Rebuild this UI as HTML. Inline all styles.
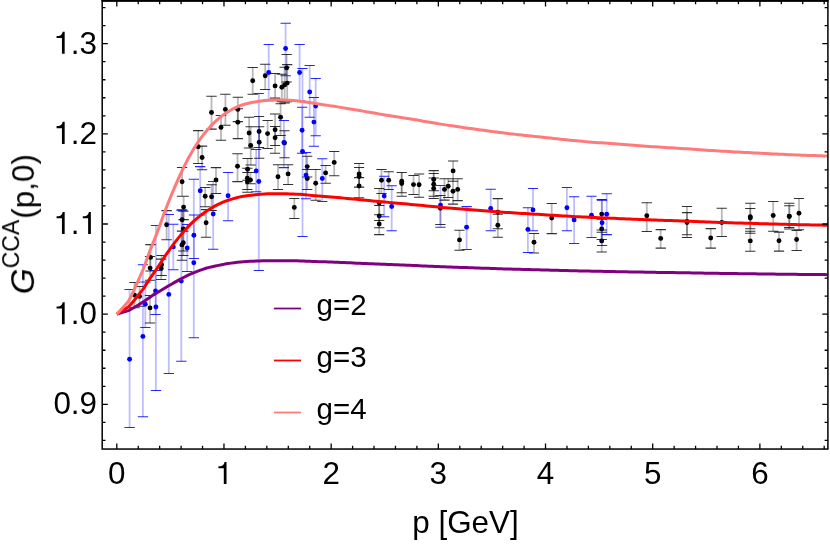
<!DOCTYPE html>
<html><head><meta charset="utf-8"><title>plot</title>
<style>html,body{margin:0;padding:0;background:#fff;}svg{display:block;}text{font-family:"Liberation Sans",sans-serif;fill:#000;}</style>
</head><body>
<svg width="830" height="545" viewBox="0 0 830 545">
<rect x="0" y="0" width="830" height="545" fill="#fff"/>
<defs><clipPath id="clip"><rect x="102.2" y="0.8" width="725.7" height="448.2"/></clipPath></defs>
<g clip-path="url(#clip)">
<g stroke="#000" stroke-opacity="0.28" stroke-width="1.8" fill="none">
<path d="M150.0 295.5V322.9"/>
<path d="M134.5 282.4V307.8"/>
<path d="M139.5 286.5V306.3"/>
<path d="M150.1 256.5V280.3"/>
<path d="M150.5 244.6V271.0"/>
<path d="M161.2 259.1V279.4"/>
<path d="M161.6 255.5V275.4"/>
<path d="M166.6 210.6V239.7"/>
<path d="M182.1 167.5V196.3"/>
<path d="M183.6 196.3V219.6"/>
<path d="M182.1 209.8V231.2"/>
<path d="M183.3 211.1V250.9"/>
<path d="M183.3 231.2V255.5"/>
<path d="M181.9 231.0V260.2"/>
<path d="M198.2 130.6V163.4"/>
<path d="M202.1 146.1V169.7"/>
<path d="M216.0 167.6V193.4"/>
<path d="M205.2 187.5V206.8"/>
<path d="M211.6 184.8V210.4"/>
<path d="M206.1 209.6V237.3"/>
<path d="M237.5 153.7V181.6"/>
<path d="M211.5 96.3V129.1"/>
<path d="M225.4 94.3V125.2"/>
<path d="M221.0 115.4V140.3"/>
<path d="M237.8 97.2V121.6"/>
<path d="M237.8 108.8V138.6"/>
<path d="M249.1 117.2V147.9"/>
<path d="M250.7 126.7V164.9"/>
<path d="M259.1 116.4V147.5"/>
<path d="M259.2 126.8V158.3"/>
<path d="M267.6 120.4V148.5"/>
<path d="M275.1 114.0V145.4"/>
<path d="M275.1 126.4V153.3"/>
<path d="M280.6 103.7V135.5"/>
<path d="M284.5 130.7V157.8"/>
<path d="M252.7 67.5V94.3"/>
<path d="M265.2 64.3V89.4"/>
<path d="M275.1 73.5V98.1"/>
<path d="M281.8 74.2V101.6"/>
<path d="M284.6 67.3V103.0"/>
<path d="M287.2 64.6V101.6"/>
<path d="M286.6 54.4V82.0"/>
<path d="M247.6 158.4V180.2"/>
<path d="M247.3 168.2V189.5"/>
<path d="M250.4 172.4V183.8"/>
<path d="M247.4 172.4V192.2"/>
<path d="M278.0 164.7V189.4"/>
<path d="M288.1 164.7V184.5"/>
<path d="M294.3 198.4V218.4"/>
<path d="M307.2 156.3V176.9"/>
<path d="M307.2 169.4V189.4"/>
<path d="M315.7 169.4V200.2"/>
<path d="M325.6 165.4V183.2"/>
<path d="M334.2 151.5V175.7"/>
<path d="M359.1 163.4V187.0"/>
<path d="M359.1 167.5V187.2"/>
<path d="M359.1 177.6V197.8"/>
<path d="M381.5 169.4V193.4"/>
<path d="M388.7 171.7V189.4"/>
<path d="M401.7 172.5V192.7"/>
<path d="M401.7 172.5V196.3"/>
<path d="M413.5 175.5V194.5"/>
<path d="M419.1 173.9V197.3"/>
<path d="M433.7 170.6V190.8"/>
<path d="M433.7 173.4V196.2"/>
<path d="M433.7 178.0V198.5"/>
<path d="M379.2 188.4V220.4"/>
<path d="M379.2 205.4V227.7"/>
<path d="M379.2 214.7V234.6"/>
<path d="M453.1 161.0V181.2"/>
<path d="M444.5 178.7V200.1"/>
<path d="M448.2 178.7V197.5"/>
<path d="M453.0 178.7V204.1"/>
<path d="M457.7 178.7V200.6"/>
<path d="M440.4 195.4V224.4"/>
<path d="M459.5 230.2V250.2"/>
<path d="M497.8 198.6V228.8"/>
<path d="M497.8 214.3V237.3"/>
<path d="M534.0 233.4V253.0"/>
<path d="M551.7 203.5V233.6"/>
<path d="M601.7 199.6V230.0"/>
<path d="M601.7 219.1V239.4"/>
<path d="M601.7 232.2V252.0"/>
<path d="M646.8 202.7V231.4"/>
<path d="M660.7 229.6V248.1"/>
<path d="M687.0 206.5V234.8"/>
<path d="M687.0 212.6V237.5"/>
<path d="M710.7 228.6V248.1"/>
<path d="M721.8 208.3V236.5"/>
<path d="M750.3 203.2V228.8"/>
<path d="M750.3 208.5V233.3"/>
<path d="M750.3 231.2V251.2"/>
<path d="M773.2 201.5V231.3"/>
<path d="M789.3 203.2V227.4"/>
<path d="M789.3 205.7V229.0"/>
<path d="M799.0 198.4V229.7"/>
<path d="M779.0 232.1V251.1"/>
<path d="M796.6 230.4V250.4"/>
</g>
<path d="M144.8 295.5H155.2M144.8 322.9H155.2M129.3 282.4H139.7M129.3 307.8H139.7M134.3 286.5H144.7M134.3 306.3H144.7M144.9 256.5H155.2M144.9 280.3H155.2M145.3 244.6H155.7M145.3 271.0H155.7M156.0 259.1H166.3M156.0 279.4H166.3M156.4 255.5H166.8M156.4 275.4H166.8M161.4 210.6H171.8M161.4 239.7H171.8M176.9 167.5H187.2M176.9 196.3H187.2M178.4 196.3H188.8M178.4 219.6H188.8M176.9 209.8H187.2M176.9 231.2H187.2M178.2 211.1H188.5M178.2 250.9H188.5M178.2 231.2H188.5M178.2 255.5H188.5M176.8 231.0H187.1M176.8 260.2H187.1M193.0 130.6H203.3M193.0 163.4H203.3M196.9 146.1H207.2M196.9 169.7H207.2M210.8 167.6H221.2M210.8 193.4H221.2M200.0 187.5H210.3M200.0 206.8H210.3M206.4 184.8H216.8M206.4 210.4H216.8M200.9 209.6H211.2M200.9 237.3H211.2M232.3 153.7H242.7M232.3 181.6H242.7M206.3 96.3H216.7M206.3 129.1H216.7M220.2 94.3H230.6M220.2 125.2H230.6M215.8 115.4H226.2M215.8 140.3H226.2M232.7 97.2H243.0M232.7 121.6H243.0M232.7 108.8H243.0M232.7 138.6H243.0M243.9 117.2H254.2M243.9 147.9H254.2M245.5 126.7H255.8M245.5 164.9H255.8M254.0 116.4H264.2M254.0 147.5H264.2M254.0 126.8H264.3M254.0 158.3H264.3M262.5 120.4H272.8M262.5 148.5H272.8M270.0 114.0H280.2M270.0 145.4H280.2M270.0 126.4H280.2M270.0 153.3H280.2M275.5 103.7H285.8M275.5 135.5H285.8M279.4 130.7H289.6M279.4 157.8H289.6M247.5 67.5H257.8M247.5 94.3H257.8M260.1 64.3H270.3M260.1 89.4H270.3M270.0 73.5H280.2M270.0 98.1H280.2M276.7 74.2H286.9M276.7 101.6H286.9M279.5 67.3H289.8M279.5 103.0H289.8M282.1 64.6H292.3M282.1 101.6H292.3M281.5 54.4H291.8M281.5 82.0H291.8M242.4 158.4H252.8M242.4 180.2H252.8M242.2 168.2H252.5M242.2 189.5H252.5M245.2 172.4H255.6M245.2 183.8H255.6M242.2 172.4H252.6M242.2 192.2H252.6M272.9 164.7H283.1M272.9 189.4H283.1M283.0 164.7H293.2M283.0 184.5H293.2M289.2 198.4H299.4M289.2 218.4H299.4M302.1 156.3H312.3M302.1 176.9H312.3M302.1 169.4H312.3M302.1 189.4H312.3M310.6 169.4H320.8M310.6 200.2H320.8M320.5 165.4H330.8M320.5 183.2H330.8M329.1 151.5H339.3M329.1 175.7H339.3M354.0 163.4H364.2M354.0 187.0H364.2M354.0 167.5H364.2M354.0 187.2H364.2M354.0 177.6H364.2M354.0 197.8H364.2M376.4 169.4H386.6M376.4 193.4H386.6M383.6 171.7H393.8M383.6 189.4H393.8M396.6 172.5H406.8M396.6 192.7H406.8M396.6 172.5H406.8M396.6 196.3H406.8M408.4 175.5H418.6M408.4 194.5H418.6M414.0 173.9H424.2M414.0 197.3H424.2M428.6 170.6H438.8M428.6 190.8H438.8M428.6 173.4H438.8M428.6 196.2H438.8M428.6 178.0H438.8M428.6 198.5H438.8M374.1 188.4H384.3M374.1 220.4H384.3M374.1 205.4H384.3M374.1 227.7H384.3M374.1 214.7H384.3M374.1 234.6H384.3M448.0 161.0H458.2M448.0 181.2H458.2M439.4 178.7H449.6M439.4 200.1H449.6M443.1 178.7H453.3M443.1 197.5H453.3M447.9 178.7H458.1M447.9 204.1H458.1M452.6 178.7H462.8M452.6 200.6H462.8M435.2 195.4H445.5M435.2 224.4H445.5M454.4 230.2H464.6M454.4 250.2H464.6M492.7 198.6H502.9M492.7 228.8H502.9M492.7 214.3H502.9M492.7 237.3H502.9M528.9 233.4H539.1M528.9 253.0H539.1M546.6 203.5H556.9M546.6 233.6H556.9M596.6 199.6H606.9M596.6 230.0H606.9M596.6 219.1H606.9M596.6 239.4H606.9M596.6 232.2H606.9M596.6 252.0H606.9M641.6 202.7H651.9M641.6 231.4H651.9M655.6 229.6H665.9M655.6 248.1H665.9M681.9 206.5H692.1M681.9 234.8H692.1M681.9 212.6H692.1M681.9 237.5H692.1M705.6 228.6H715.9M705.6 248.1H715.9M716.6 208.3H726.9M716.6 236.5H726.9M745.1 203.2H755.4M745.1 228.8H755.4M745.1 208.5H755.4M745.1 233.3H755.4M745.1 231.2H755.4M745.1 251.2H755.4M768.1 201.5H778.4M768.1 231.3H778.4M784.1 203.2H794.4M784.1 227.4H794.4M784.1 205.7H794.4M784.1 229.0H794.4M793.9 198.4H804.1M793.9 229.7H804.1M773.9 232.1H784.1M773.9 251.1H784.1M791.5 230.4H801.8M791.5 250.4H801.8" stroke="#000" stroke-opacity="0.8" stroke-width="1.05" fill="none"/>
<g fill="#000"><circle cx="150.0" cy="307.9" r="2.45"/><circle cx="134.5" cy="295.1" r="2.45"/><circle cx="139.5" cy="296.4" r="2.45"/><circle cx="150.1" cy="268.1" r="2.45"/><circle cx="150.5" cy="257.4" r="2.45"/><circle cx="161.2" cy="268.6" r="2.45"/><circle cx="161.6" cy="264.8" r="2.45"/><circle cx="166.6" cy="224.8" r="2.45"/><circle cx="182.1" cy="181.8" r="2.45"/><circle cx="183.6" cy="207.1" r="2.45"/><circle cx="182.1" cy="219.8" r="2.45"/><circle cx="183.3" cy="229.0" r="2.45"/><circle cx="183.3" cy="242.8" r="2.45"/><circle cx="181.9" cy="244.9" r="2.45"/><circle cx="198.2" cy="146.7" r="2.45"/><circle cx="202.1" cy="157.5" r="2.45"/><circle cx="216.0" cy="180.0" r="2.45"/><circle cx="205.2" cy="196.3" r="2.45"/><circle cx="211.6" cy="196.7" r="2.45"/><circle cx="206.1" cy="222.8" r="2.45"/><circle cx="237.5" cy="166.3" r="2.45"/><circle cx="211.5" cy="112.5" r="2.45"/><circle cx="225.4" cy="109.4" r="2.45"/><circle cx="221.0" cy="127.4" r="2.45"/><circle cx="237.8" cy="109.4" r="2.45"/><circle cx="237.8" cy="122.2" r="2.45"/><circle cx="249.1" cy="133.0" r="2.45"/><circle cx="250.7" cy="145.4" r="2.45"/><circle cx="259.1" cy="131.5" r="2.45"/><circle cx="259.2" cy="142.2" r="2.45"/><circle cx="267.6" cy="133.6" r="2.45"/><circle cx="275.1" cy="129.8" r="2.45"/><circle cx="275.1" cy="137.7" r="2.45"/><circle cx="280.6" cy="117.2" r="2.45"/><circle cx="284.5" cy="143.0" r="2.45"/><circle cx="252.7" cy="80.8" r="2.45"/><circle cx="265.2" cy="75.7" r="2.45"/><circle cx="275.1" cy="85.9" r="2.45"/><circle cx="281.8" cy="87.3" r="2.45"/><circle cx="284.6" cy="84.9" r="2.45"/><circle cx="287.2" cy="83.1" r="2.45"/><circle cx="286.6" cy="67.9" r="2.45"/><circle cx="247.6" cy="169.3" r="2.45"/><circle cx="247.3" cy="178.3" r="2.45"/><circle cx="250.4" cy="180.0" r="2.45"/><circle cx="247.4" cy="181.7" r="2.45"/><circle cx="278.0" cy="176.8" r="2.45"/><circle cx="288.1" cy="173.9" r="2.45"/><circle cx="294.3" cy="207.4" r="2.45"/><circle cx="307.2" cy="166.6" r="2.45"/><circle cx="307.2" cy="178.5" r="2.45"/><circle cx="315.7" cy="183.2" r="2.45"/><circle cx="325.6" cy="172.9" r="2.45"/><circle cx="334.2" cy="162.4" r="2.45"/><circle cx="359.1" cy="174.0" r="2.45"/><circle cx="359.1" cy="176.5" r="2.45"/><circle cx="359.1" cy="186.0" r="2.45"/><circle cx="381.5" cy="180.3" r="2.45"/><circle cx="388.7" cy="180.3" r="2.45"/><circle cx="401.7" cy="181.2" r="2.45"/><circle cx="401.7" cy="183.6" r="2.45"/><circle cx="413.5" cy="184.6" r="2.45"/><circle cx="419.1" cy="184.8" r="2.45"/><circle cx="433.7" cy="179.5" r="2.45"/><circle cx="433.7" cy="184.3" r="2.45"/><circle cx="433.7" cy="188.4" r="2.45"/><circle cx="379.2" cy="203.0" r="2.45"/><circle cx="379.2" cy="215.9" r="2.45"/><circle cx="379.2" cy="223.9" r="2.45"/><circle cx="453.1" cy="170.9" r="2.45"/><circle cx="444.5" cy="189.4" r="2.45"/><circle cx="448.2" cy="186.2" r="2.45"/><circle cx="453.0" cy="191.2" r="2.45"/><circle cx="457.7" cy="189.4" r="2.45"/><circle cx="440.4" cy="208.3" r="2.45"/><circle cx="459.5" cy="239.9" r="2.45"/><circle cx="497.8" cy="212.1" r="2.45"/><circle cx="497.8" cy="225.2" r="2.45"/><circle cx="534.0" cy="242.2" r="2.45"/><circle cx="551.7" cy="218.1" r="2.45"/><circle cx="601.7" cy="214.1" r="2.45"/><circle cx="601.7" cy="229.0" r="2.45"/><circle cx="601.7" cy="240.9" r="2.45"/><circle cx="646.8" cy="215.8" r="2.45"/><circle cx="660.7" cy="238.4" r="2.45"/><circle cx="687.0" cy="221.5" r="2.45"/><circle cx="687.0" cy="222.6" r="2.45"/><circle cx="710.7" cy="238.0" r="2.45"/><circle cx="721.8" cy="222.5" r="2.45"/><circle cx="750.3" cy="216.8" r="2.45"/><circle cx="750.3" cy="218.0" r="2.45"/><circle cx="750.3" cy="240.9" r="2.45"/><circle cx="773.2" cy="215.5" r="2.45"/><circle cx="789.3" cy="216.1" r="2.45"/><circle cx="789.3" cy="216.5" r="2.45"/><circle cx="799.0" cy="213.3" r="2.45"/><circle cx="779.0" cy="240.8" r="2.45"/><circle cx="796.6" cy="239.5" r="2.45"/></g>
<g stroke="#0000ff" stroke-opacity="0.26" stroke-width="1.8" fill="none">
<path d="M129.6 289.5V427.5"/>
<path d="M142.9 264.7V416.7"/>
<path d="M155.9 225.4V390.5"/>
<path d="M145.3 281.9V327.4"/>
<path d="M155.5 270.5V314.5"/>
<path d="M168.8 214.4V373.4"/>
<path d="M181.3 210.3V361.3"/>
<path d="M193.8 179.3V337.7"/>
<path d="M173.3 224.3V269.7"/>
<path d="M187.2 224.5V271.4"/>
<path d="M193.9 214.9V258.4"/>
<path d="M200.2 166.6V214.9"/>
<path d="M213.2 181.4V249.3"/>
<path d="M228.1 172.4V220.7"/>
<path d="M256.2 149.4V191.8"/>
<path d="M258.8 93.4V270.4"/>
<path d="M283.9 120.4V167.6"/>
<path d="M268.7 44.4V100.6"/>
<path d="M285.6 23.3V75.7"/>
<path d="M299.6 44.4V100.6"/>
<path d="M309.7 65.4V117.2"/>
<path d="M315.7 78.5V135.7"/>
<path d="M313.9 97.4V146.3"/>
<path d="M302.1 107.3V153.3"/>
<path d="M302.5 68.5V236.4"/>
<path d="M306.0 152.5V198.7"/>
<path d="M322.3 158.8V201.4"/>
<path d="M384.2 176.3V216.7"/>
<path d="M391.7 185.7V230.7"/>
<path d="M440.5 185.5V227.3"/>
<path d="M466.6 206.6V249.5"/>
<path d="M490.7 189.3V230.7"/>
<path d="M533.0 188.5V230.8"/>
<path d="M527.9 207.8V252.4"/>
<path d="M566.9 187.5V230.7"/>
<path d="M574.1 196.7V243.5"/>
<path d="M591.5 196.2V237.5"/>
<path d="M606.7 193.8V234.6"/>
<path d="M602.1 200.3V245.5"/>
</g>
<path d="M124.4 289.5H134.8M124.4 427.5H134.8M137.8 264.7H148.1M137.8 416.7H148.1M150.8 225.4H161.1M150.8 390.5H161.1M140.2 281.9H150.5M140.2 327.4H150.5M150.3 270.5H160.7M150.3 314.5H160.7M163.7 214.4H174.0M163.7 373.4H174.0M176.2 210.3H186.5M176.2 361.3H186.5M188.7 179.3H199.0M188.7 337.7H199.0M168.2 224.3H178.5M168.2 269.7H178.5M182.0 224.5H192.3M182.0 271.4H192.3M188.8 214.9H199.1M188.8 258.4H199.1M195.0 166.6H205.3M195.0 214.9H205.3M208.0 181.4H218.3M208.0 249.3H218.3M222.9 172.4H233.2M222.9 220.7H233.2M251.0 149.4H261.3M251.0 191.8H261.3M253.7 93.4H263.9M253.7 270.4H263.9M278.8 120.4H289.0M278.8 167.6H289.0M263.6 44.4H273.8M263.6 100.6H273.8M280.5 23.3H290.8M280.5 75.7H290.8M294.5 44.4H304.8M294.5 100.6H304.8M304.6 65.4H314.8M304.6 117.2H314.8M310.6 78.5H320.8M310.6 135.7H320.8M308.8 97.4H319.0M308.8 146.3H319.0M297.0 107.3H307.2M297.0 153.3H307.2M297.4 68.5H307.6M297.4 236.4H307.6M300.9 152.5H311.1M300.9 198.7H311.1M317.2 158.8H327.4M317.2 201.4H327.4M379.1 176.3H389.3M379.1 216.7H389.3M386.6 185.7H396.8M386.6 230.7H396.8M435.4 185.5H445.6M435.4 227.3H445.6M461.5 206.6H471.8M461.5 249.5H471.8M485.6 189.3H495.8M485.6 230.7H495.8M527.9 188.5H538.1M527.9 230.8H538.1M522.8 207.8H533.0M522.8 252.4H533.0M561.8 187.5H572.0M561.8 230.7H572.0M569.0 196.7H579.2M569.0 243.5H579.2M586.4 196.2H596.6M586.4 237.5H596.6M601.6 193.8H611.9M601.6 234.6H611.9M597.0 200.3H607.2M597.0 245.5H607.2" stroke="#0000ff" stroke-opacity="0.85" stroke-width="1.05" fill="none"/>
<g fill="#0000ff"><circle cx="129.6" cy="359.3" r="2.45"/><circle cx="142.9" cy="336.4" r="2.45"/><circle cx="155.9" cy="307.0" r="2.45"/><circle cx="145.3" cy="304.3" r="2.45"/><circle cx="155.5" cy="290.9" r="2.45"/><circle cx="168.8" cy="294.4" r="2.45"/><circle cx="181.3" cy="281.1" r="2.45"/><circle cx="193.8" cy="262.8" r="2.45"/><circle cx="173.3" cy="246.9" r="2.45"/><circle cx="187.2" cy="248.0" r="2.45"/><circle cx="193.9" cy="235.3" r="2.45"/><circle cx="200.2" cy="190.8" r="2.45"/><circle cx="213.2" cy="214.0" r="2.45"/><circle cx="228.1" cy="195.8" r="2.45"/><circle cx="256.2" cy="170.9" r="2.45"/><circle cx="258.8" cy="181.5" r="2.45"/><circle cx="283.9" cy="142.5" r="2.45"/><circle cx="268.7" cy="72.5" r="2.45"/><circle cx="285.6" cy="48.5" r="2.45"/><circle cx="299.6" cy="72.5" r="2.45"/><circle cx="309.7" cy="92.0" r="2.45"/><circle cx="315.7" cy="106.1" r="2.45"/><circle cx="313.9" cy="122.1" r="2.45"/><circle cx="302.1" cy="130.3" r="2.45"/><circle cx="302.5" cy="151.5" r="2.45"/><circle cx="306.0" cy="175.1" r="2.45"/><circle cx="322.3" cy="178.5" r="2.45"/><circle cx="384.2" cy="196.1" r="2.45"/><circle cx="391.7" cy="206.5" r="2.45"/><circle cx="440.5" cy="205.1" r="2.45"/><circle cx="466.6" cy="227.3" r="2.45"/><circle cx="490.7" cy="208.5" r="2.45"/><circle cx="533.0" cy="209.9" r="2.45"/><circle cx="527.9" cy="229.4" r="2.45"/><circle cx="566.9" cy="207.8" r="2.45"/><circle cx="574.1" cy="219.9" r="2.45"/><circle cx="591.5" cy="215.2" r="2.45"/><circle cx="606.7" cy="214.3" r="2.45"/><circle cx="602.1" cy="222.8" r="2.45"/></g>
<path d="M116.80 314.17 L129.20 310.31 L136.70 306.05 L144.60 301.01 L152.50 295.41 L160.40 290.73 L168.20 286.04 L171.46 284.20 L174.60 282.42 L177.74 280.61 L180.88 278.85 L184.01 277.23 L187.15 275.68 L190.29 274.21 L193.43 272.86 L196.57 271.62 L199.70 270.43 L202.84 269.31 L205.98 268.29 L209.12 267.40 L212.26 266.70 L215.39 266.06 L218.53 265.38 L221.67 264.72 L224.81 264.10 L227.95 263.57 L231.08 263.12 L234.22 262.70 L237.36 262.32 L240.50 262.00 L243.63 261.75 L246.77 261.54 L249.91 261.36 L253.05 261.20 L256.19 261.07 L259.32 260.96 L262.46 260.84 L265.60 260.74 L268.74 260.67 L271.88 260.64 L275.01 260.63 L278.15 260.63 L281.29 260.63 L284.43 260.65 L287.57 260.69 L290.70 260.74 L293.84 260.79 L296.98 260.86 L300.12 260.93 L303.26 261.04 L306.39 261.16 L309.53 261.29 L312.67 261.41 L315.81 261.53 L318.95 261.64 L322.08 261.75 L325.22 261.87 L328.36 261.99 L331.50 262.11 L334.64 262.23 L337.77 262.35 L340.91 262.48 L344.05 262.61 L347.19 262.73 L350.33 262.87 L353.46 263.00 L356.60 263.13 L359.74 263.27 L362.88 263.41 L366.02 263.54 L369.15 263.68 L372.29 263.81 L375.43 263.95 L378.57 264.08 L381.71 264.21 L384.84 264.34 L387.98 264.47 L391.12 264.59 L394.26 264.72 L397.40 264.84 L400.53 264.97 L403.67 265.10 L406.81 265.22 L409.95 265.35 L413.09 265.48 L416.22 265.61 L419.36 265.74 L422.50 265.88 L425.64 266.01 L428.77 266.15 L431.91 266.29 L435.05 266.42 L438.19 266.55 L441.33 266.68 L444.46 266.80 L447.60 266.92 L450.74 267.04 L453.88 267.16 L457.02 267.28 L460.15 267.39 L463.29 267.50 L466.43 267.61 L469.57 267.72 L472.71 267.83 L475.84 267.94 L478.98 268.05 L482.12 268.16 L485.26 268.26 L488.40 268.37 L491.53 268.48 L494.67 268.58 L497.81 268.68 L500.95 268.78 L504.09 268.88 L507.22 268.98 L510.36 269.07 L513.50 269.16 L516.64 269.25 L519.78 269.34 L522.91 269.42 L526.05 269.51 L529.19 269.59 L532.33 269.67 L535.47 269.75 L538.60 269.83 L541.74 269.92 L544.88 270.00 L548.02 270.08 L551.16 270.17 L554.29 270.26 L557.43 270.34 L560.57 270.43 L563.71 270.52 L566.85 270.60 L569.98 270.68 L573.12 270.76 L576.26 270.83 L579.40 270.90 L582.54 270.97 L585.67 271.04 L588.81 271.10 L591.95 271.16 L595.09 271.22 L598.22 271.28 L601.36 271.34 L604.50 271.40 L607.64 271.46 L610.78 271.52 L613.91 271.58 L617.05 271.64 L620.19 271.70 L623.33 271.77 L626.47 271.83 L629.60 271.89 L632.74 271.94 L635.88 272.00 L639.02 272.06 L642.16 272.12 L645.29 272.17 L648.43 272.23 L651.57 272.28 L654.71 272.33 L657.85 272.38 L660.98 272.43 L664.12 272.48 L667.26 272.53 L670.40 272.57 L673.54 272.62 L676.67 272.67 L679.81 272.72 L682.95 272.77 L686.09 272.82 L689.23 272.87 L692.36 272.93 L695.50 272.98 L698.64 273.04 L701.78 273.09 L704.92 273.14 L708.05 273.20 L711.19 273.25 L714.33 273.30 L717.47 273.35 L720.61 273.39 L723.74 273.44 L726.88 273.48 L730.02 273.53 L733.16 273.57 L736.30 273.62 L739.43 273.66 L742.57 273.70 L745.71 273.74 L748.85 273.78 L751.99 273.82 L755.12 273.87 L758.26 273.91 L761.40 273.95 L764.54 273.99 L767.67 274.03 L770.81 274.07 L773.95 274.11 L777.09 274.15 L780.23 274.19 L783.36 274.22 L786.50 274.26 L789.64 274.29 L792.78 274.32 L795.92 274.36 L799.05 274.39 L802.19 274.42 L805.33 274.45 L808.47 274.48 L811.61 274.50 L814.74 274.53 L817.88 274.56 L821.02 274.58 L824.16 274.61 L827.30 274.63" stroke="#800080" stroke-width="3" fill="none" stroke-linejoin="round"/>
<path d="M116.80 314.17 L128.27 307.03 L130.73 304.53 L133.91 300.72 L137.09 296.74 L140.28 292.69 L143.46 288.59 L146.64 283.61 L149.82 278.67 L153.00 274.20 L156.18 269.71 L159.36 264.92 L162.54 259.99 L165.72 255.13 L168.90 250.56 L172.08 246.19 L175.26 241.96 L178.44 237.90 L181.62 234.04 L184.80 230.37 L187.99 226.89 L191.17 223.64 L194.35 220.61 L197.53 217.82 L200.71 215.31 L203.89 212.95 L207.07 210.72 L210.25 208.68 L213.43 206.84 L216.61 205.18 L219.79 203.63 L222.97 202.22 L226.15 200.96 L229.33 199.87 L232.51 198.86 L235.69 197.94 L238.88 197.14 L242.06 196.49 L245.24 195.98 L248.42 195.54 L251.60 195.15 L254.78 194.83 L257.96 194.55 L261.14 194.29 L264.32 194.04 L267.50 193.85 L270.68 193.75 L273.86 193.72 L277.04 193.70 L280.22 193.70 L283.40 193.73 L286.59 193.80 L289.77 193.91 L292.95 194.04 L296.13 194.18 L299.31 194.34 L302.49 194.56 L305.67 194.83 L308.85 195.12 L312.03 195.41 L315.21 195.67 L318.39 195.93 L321.57 196.19 L324.75 196.46 L327.93 196.72 L331.11 197.00 L334.30 197.27 L337.48 197.56 L340.66 197.84 L343.84 198.13 L347.02 198.42 L350.20 198.72 L353.38 199.03 L356.56 199.34 L359.74 199.65 L362.92 199.96 L366.10 200.27 L369.28 200.57 L372.46 200.89 L375.64 201.19 L378.82 201.50 L382.00 201.80 L385.19 202.09 L388.37 202.38 L391.55 202.66 L394.73 202.94 L397.91 203.23 L401.09 203.52 L404.27 203.81 L407.45 204.10 L410.63 204.39 L413.81 204.69 L416.99 204.99 L420.17 205.29 L423.35 205.60 L426.53 205.91 L429.71 206.22 L432.90 206.52 L436.08 206.83 L439.26 207.12 L442.44 207.41 L445.62 207.69 L448.80 207.97 L451.98 208.24 L455.16 208.50 L458.34 208.77 L461.52 209.03 L464.70 209.28 L467.88 209.54 L471.06 209.79 L474.24 210.03 L477.42 210.28 L480.61 210.53 L483.79 210.77 L486.97 211.01 L490.15 211.25 L493.33 211.49 L496.51 211.73 L499.69 211.96 L502.87 212.19 L506.05 212.41 L509.23 212.62 L512.41 212.84 L515.59 213.04 L518.77 213.24 L521.95 213.43 L525.13 213.62 L528.31 213.81 L531.50 214.00 L534.68 214.18 L537.86 214.37 L541.04 214.55 L544.22 214.74 L547.40 214.94 L550.58 215.13 L553.76 215.33 L556.94 215.53 L560.12 215.73 L563.30 215.92 L566.48 216.11 L569.66 216.30 L572.84 216.48 L576.02 216.64 L579.21 216.81 L582.39 216.96 L585.57 217.11 L588.75 217.26 L591.93 217.40 L595.11 217.54 L598.29 217.68 L601.47 217.81 L604.65 217.95 L607.83 218.09 L611.01 218.22 L614.19 218.36 L617.37 218.50 L620.55 218.64 L623.73 218.78 L626.92 218.91 L630.10 219.05 L633.28 219.19 L636.46 219.32 L639.64 219.45 L642.82 219.58 L646.00 219.70 L649.18 219.83 L652.36 219.95 L655.54 220.06 L658.72 220.18 L661.90 220.29 L665.08 220.40 L668.26 220.51 L671.44 220.62 L674.62 220.73 L677.81 220.84 L680.99 220.95 L684.17 221.06 L687.35 221.18 L690.53 221.30 L693.71 221.42 L696.89 221.55 L700.07 221.67 L703.25 221.80 L706.43 221.92 L709.61 222.04 L712.79 222.16 L715.97 222.27 L719.15 222.38 L722.33 222.48 L725.52 222.58 L728.70 222.69 L731.88 222.79 L735.06 222.88 L738.24 222.98 L741.42 223.08 L744.60 223.17 L747.78 223.27 L750.96 223.36 L754.14 223.45 L757.32 223.55 L760.50 223.64 L763.68 223.74 L766.86 223.83 L770.04 223.93 L773.23 224.02 L776.41 224.11 L779.59 224.19 L782.77 224.28 L785.95 224.36 L789.13 224.43 L792.31 224.51 L795.49 224.58 L798.67 224.65 L801.85 224.72 L805.03 224.79 L808.21 224.85 L811.39 224.92 L814.57 224.98 L817.75 225.04 L820.93 225.09 L824.12 225.15 L827.30 225.20" stroke="#ff0000" stroke-width="3" fill="none" stroke-linejoin="round"/>
<path d="M116.80 314.17 L128.27 301.47 L130.73 297.04 L133.91 290.25 L137.09 283.18 L140.28 275.99 L143.46 268.69 L146.64 259.84 L149.82 251.05 L153.00 243.11 L156.18 235.12 L159.36 226.61 L162.54 217.84 L165.72 209.21 L168.90 201.08 L172.08 193.31 L175.26 185.80 L178.44 178.59 L181.62 171.72 L184.80 165.20 L187.99 159.01 L191.17 153.22 L194.35 147.84 L197.53 142.88 L200.71 138.42 L203.89 134.21 L207.07 130.26 L210.25 126.63 L213.43 123.36 L216.61 120.40 L219.79 117.65 L222.97 115.15 L226.15 112.91 L229.33 110.97 L232.51 109.17 L235.69 107.54 L238.88 106.12 L242.06 104.97 L245.24 104.06 L248.42 103.26 L251.60 102.58 L254.78 102.00 L257.96 101.51 L261.14 101.04 L264.32 100.61 L267.50 100.27 L270.68 100.09 L273.86 100.04 L277.04 100.01 L280.22 100.00 L283.40 100.05 L286.59 100.18 L289.77 100.37 L292.95 100.60 L296.13 100.85 L299.31 101.14 L302.49 101.54 L305.67 102.01 L308.85 102.53 L312.03 103.04 L315.21 103.51 L318.39 103.97 L321.57 104.43 L324.75 104.90 L327.93 105.38 L331.11 105.86 L334.30 106.35 L337.48 106.86 L340.66 107.36 L343.84 107.88 L347.02 108.40 L350.20 108.93 L353.38 109.47 L356.56 110.02 L359.74 110.57 L362.92 111.13 L366.10 111.67 L369.28 112.22 L372.46 112.77 L375.64 113.32 L378.82 113.87 L382.00 114.40 L385.19 114.92 L388.37 115.43 L391.55 115.93 L394.73 116.44 L397.91 116.95 L401.09 117.46 L404.27 117.98 L407.45 118.49 L410.63 119.01 L413.81 119.53 L416.99 120.06 L420.17 120.60 L423.35 121.15 L426.53 121.70 L429.71 122.25 L432.90 122.80 L436.08 123.34 L439.26 123.87 L442.44 124.38 L445.62 124.88 L448.80 125.37 L451.98 125.85 L455.16 126.32 L458.34 126.79 L461.52 127.25 L464.70 127.70 L467.88 128.15 L471.06 128.60 L474.24 129.04 L477.42 129.48 L480.61 129.91 L483.79 130.35 L486.97 130.78 L490.15 131.21 L493.33 131.63 L496.51 132.05 L499.69 132.46 L502.87 132.86 L506.05 133.26 L509.23 133.64 L512.41 134.02 L515.59 134.38 L518.77 134.74 L521.95 135.08 L525.13 135.42 L528.31 135.75 L531.50 136.09 L534.68 136.41 L537.86 136.74 L541.04 137.08 L544.22 137.41 L547.40 137.75 L550.58 138.10 L553.76 138.46 L556.94 138.81 L560.12 139.16 L563.30 139.51 L566.48 139.85 L569.66 140.17 L572.84 140.49 L576.02 140.79 L579.21 141.08 L582.39 141.35 L585.57 141.62 L588.75 141.88 L591.93 142.13 L595.11 142.38 L598.29 142.63 L601.47 142.87 L604.65 143.11 L607.83 143.36 L611.01 143.60 L614.19 143.84 L617.37 144.09 L620.55 144.34 L623.73 144.58 L626.92 144.83 L630.10 145.07 L633.28 145.31 L636.46 145.54 L639.64 145.78 L642.82 146.01 L646.00 146.23 L649.18 146.45 L652.36 146.66 L655.54 146.87 L658.72 147.07 L661.90 147.27 L665.08 147.46 L668.26 147.66 L671.44 147.85 L674.62 148.05 L677.81 148.24 L680.99 148.44 L684.17 148.65 L687.35 148.85 L690.53 149.07 L693.71 149.29 L696.89 149.51 L700.07 149.73 L703.25 149.95 L706.43 150.17 L709.61 150.38 L712.79 150.59 L715.97 150.79 L719.15 150.98 L722.33 151.17 L725.52 151.35 L728.70 151.53 L731.88 151.71 L735.06 151.88 L738.24 152.06 L741.42 152.23 L744.60 152.40 L747.78 152.56 L750.96 152.73 L754.14 152.90 L757.32 153.07 L760.50 153.24 L763.68 153.40 L766.86 153.57 L770.04 153.74 L773.23 153.90 L776.41 154.06 L779.59 154.21 L782.77 154.36 L785.95 154.50 L789.13 154.64 L792.31 154.77 L795.49 154.90 L798.67 155.02 L801.85 155.15 L805.03 155.27 L808.21 155.38 L811.39 155.50 L814.57 155.61 L817.75 155.71 L820.93 155.81 L824.12 155.91 L827.30 156.00" stroke="#ff7a7a" stroke-width="3" fill="none" stroke-linejoin="round"/>
</g>
<rect x="102.20" y="0.80" width="725.70" height="448.25" fill="none" stroke="#000" stroke-width="1.5"/>
<rect x="101.45" y="0" width="727.20" height="1.75" fill="#000"/>
<path d="M116.80 449.05V443.45M116.80 0.00V6.60M138.24 449.05V445.75M138.24 0.00V4.30M159.67 449.05V445.75M159.67 0.00V4.30M181.11 449.05V445.75M181.11 0.00V4.30M202.54 449.05V445.75M202.54 0.00V4.30M223.98 449.05V443.45M223.98 0.00V6.60M245.42 449.05V445.75M245.42 0.00V4.30M266.85 449.05V445.75M266.85 0.00V4.30M288.29 449.05V445.75M288.29 0.00V4.30M309.72 449.05V445.75M309.72 0.00V4.30M331.16 449.05V443.45M331.16 0.00V6.60M352.60 449.05V445.75M352.60 0.00V4.30M374.03 449.05V445.75M374.03 0.00V4.30M395.47 449.05V445.75M395.47 0.00V4.30M416.90 449.05V445.75M416.90 0.00V4.30M438.34 449.05V443.45M438.34 0.00V6.60M459.78 449.05V445.75M459.78 0.00V4.30M481.21 449.05V445.75M481.21 0.00V4.30M502.65 449.05V445.75M502.65 0.00V4.30M524.08 449.05V445.75M524.08 0.00V4.30M545.52 449.05V443.45M545.52 0.00V6.60M566.96 449.05V445.75M566.96 0.00V4.30M588.39 449.05V445.75M588.39 0.00V4.30M609.83 449.05V445.75M609.83 0.00V4.30M631.26 449.05V445.75M631.26 0.00V4.30M652.70 449.05V443.45M652.70 0.00V6.60M674.14 449.05V445.75M674.14 0.00V4.30M695.57 449.05V445.75M695.57 0.00V4.30M717.01 449.05V445.75M717.01 0.00V4.30M738.44 449.05V445.75M738.44 0.00V4.30M759.88 449.05V443.45M759.88 0.00V6.60M781.32 449.05V445.75M781.32 0.00V4.30M802.75 449.05V445.75M802.75 0.00V4.30M824.19 449.05V445.75M824.19 0.00V4.30M102.20 440.41H105.50M827.90 440.41H824.60M102.20 422.37H105.50M827.90 422.37H824.60M102.20 404.34H107.80M827.90 404.34H822.30M102.20 386.31H105.50M827.90 386.31H824.60M102.20 368.27H105.50M827.90 368.27H824.60M102.20 350.24H105.50M827.90 350.24H824.60M102.20 332.20H105.50M827.90 332.20H824.60M102.20 314.17H107.80M827.90 314.17H822.30M102.20 296.14H105.50M827.90 296.14H824.60M102.20 278.10H105.50M827.90 278.10H824.60M102.20 260.07H105.50M827.90 260.07H824.60M102.20 242.03H105.50M827.90 242.03H824.60M102.20 224.00H107.80M827.90 224.00H822.30M102.20 205.97H105.50M827.90 205.97H824.60M102.20 187.93H105.50M827.90 187.93H824.60M102.20 169.90H105.50M827.90 169.90H824.60M102.20 151.86H105.50M827.90 151.86H824.60M102.20 133.83H107.80M827.90 133.83H822.30M102.20 115.80H105.50M827.90 115.80H824.60M102.20 97.76H105.50M827.90 97.76H824.60M102.20 79.73H105.50M827.90 79.73H824.60M102.20 61.69H105.50M827.90 61.69H824.60M102.20 43.66H107.80M827.90 43.66H822.30M102.20 25.63H105.50M827.90 25.63H824.60M102.20 7.59H105.50M827.90 7.59H824.60" stroke="#000" stroke-width="1.3" fill="none"/>
<g opacity="0.999">
<text x="116.80" y="484.0" font-size="31.4" text-anchor="middle">0</text>
<path transform="translate(215.25,484.00) scale(0.03140,-0.03140)" d="M359 0L359 703L296 703C284 640 250 574 168 569L101 569L101 501L272 501L272 0Z" fill="#000"/>
<text x="331.16" y="484.0" font-size="31.4" text-anchor="middle">2</text>
<text x="438.34" y="484.0" font-size="31.4" text-anchor="middle">3</text>
<text x="545.52" y="484.0" font-size="31.4" text-anchor="middle">4</text>
<text x="652.70" y="484.0" font-size="31.4" text-anchor="middle">5</text>
<text x="759.88" y="484.0" font-size="31.4" text-anchor="middle">6</text>
<text x="97.05" y="414.44" font-size="31.4" text-anchor="end">0.9</text>
<text x="97.05" y="324.27" font-size="31.4" text-anchor="end">.0</text>
<path transform="translate(53.40,324.27) scale(0.03140,-0.03140)" d="M359 0L359 703L296 703C284 640 250 574 168 569L101 569L101 501L272 501L272 0Z" fill="#000"/>
<path transform="translate(79.59,234.10) scale(0.03140,-0.03140)" d="M359 0L359 703L296 703C284 640 250 574 168 569L101 569L101 501L272 501L272 0Z" fill="#000"/>
<text x="79.59" y="234.10" font-size="31.4" text-anchor="end">.</text>
<path transform="translate(53.40,234.10) scale(0.03140,-0.03140)" d="M359 0L359 703L296 703C284 640 250 574 168 569L101 569L101 501L272 501L272 0Z" fill="#000"/>
<text x="97.05" y="143.93" font-size="31.4" text-anchor="end">.2</text>
<path transform="translate(53.40,143.93) scale(0.03140,-0.03140)" d="M359 0L359 703L296 703C284 640 250 574 168 569L101 569L101 501L272 501L272 0Z" fill="#000"/>
<text x="97.05" y="53.76" font-size="31.4" text-anchor="end">.3</text>
<path transform="translate(53.40,53.76) scale(0.03140,-0.03140)" d="M359 0L359 703L296 703C284 640 250 574 168 569L101 569L101 501L272 501L272 0Z" fill="#000"/>
<text x="465.5" y="532.5" font-size="31.4" text-anchor="middle">p [GeV]</text>
<text transform="translate(34.1,294.3) rotate(-90)" font-size="31.4"><tspan font-style="italic" font-size="33.4">G</tspan><tspan font-size="23" dy="-15.4" dx="0">CCA</tspan><tspan dy="15.4" dx="1.0">(p,0)</tspan></text>
<path d="M273.9 308.5H301.1" stroke="#800080" stroke-width="1.8"/>
<text x="316.5" y="314.8" font-size="29.5">g=2</text>
<path d="M273.9 360.5H301.1" stroke="#ff0000" stroke-width="1.8"/>
<text x="316.5" y="366.8" font-size="29.5">g=3</text>
<path d="M273.9 412.5H301.1" stroke="#ff7a7a" stroke-width="1.8"/>
<text x="316.5" y="418.8" font-size="29.5">g=4</text>
</g>
</svg></body></html>
